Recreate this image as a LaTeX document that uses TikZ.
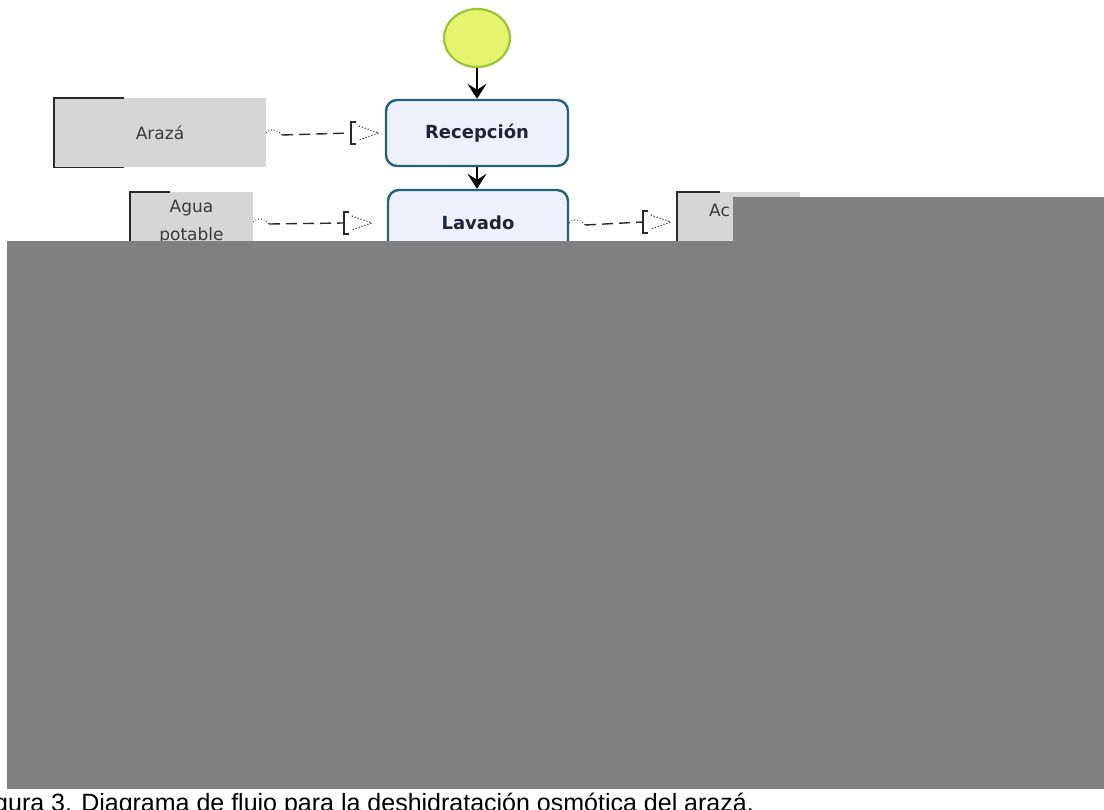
\documentclass[tikz,border=0pt]{standalone}
\usepackage{fontspec}
\setmainfont{DejaVu Sans}
\newfontfamily\capfont{Liberation Sans}
\usetikzlibrary{arrows.meta,calc,shapes.geometric}

\definecolor{boxedge}{HTML}{24627C}
\definecolor{boxfill}{HTML}{EEF0FC}
\definecolor{startfill}{HTML}{E4F46C}
\definecolor{startedge}{HTML}{9CC43A}
\definecolor{matfill}{HTML}{D6D6D6}
\definecolor{matedge}{HTML}{2A2A2A}
\definecolor{navy}{HTML}{1C2438}
\definecolor{matText}{HTML}{3A3A3A}
\definecolor{coverc}{HTML}{808080}

% input/output link: dashed line ending in a bracket and a dotted open arrow
\newcommand\iolink[3]{%
  \draw[dotted, line width=0.9pt, matedge] (#1.east)
     .. controls ($(#1.east)+(5,-5)$) and ($(#1.east)+(10,-4)$) .. ($(#1.east)+(16,2)$);
  \draw[linkline] ($(#1.east)+(16,2)$) -- ($(#2.west)+(-#3,0)$);
  \draw[line width=1.6pt, matedge] ($(#2.west)+({-#3+5},-11)$) -- ++(-5,0) -- ++(0,22) -- ++(5,0);
  \draw[dotted, line width=1.1pt, matedge] ($(#2.west)+({-#3+8},-7)$) -- ($(#2.west)+({-#3+28},0)$) -- ($(#2.west)+({-#3+8},7)$);
}

\begin{document}
\begin{tikzpicture}[x=1pt,y=-1pt,
  every node/.style={inner sep=0pt},
  procbox/.style={draw=boxedge, line width=2.4pt, fill=boxfill, rounded corners=11pt,
    minimum height=66pt, font=\fontsize{18}{20}\selectfont\bfseries, text=navy},
  matbox/.style={fill=matfill, font=\fontsize{17}{28}\selectfont, text=matText, align=center},
  matline/.style={line width=1.6pt, matedge},
  linkline/.style={line width=1.4pt, matedge, dash pattern=on 11pt off 6pt},
  flow/.style={line width=2pt, black, -{Stealth[length=15pt,width=19pt,inset=6pt]}},
  cover/.style={fill=coverc, draw=none}
]
\useasboundingbox (0,0) rectangle (1104,810);
\fill[white] (0,0) rectangle (1104,810);

% start event
\node[ellipse, draw=startedge, line width=2.2pt, fill=startfill,
      minimum width=66pt, minimum height=58pt] (start) at (477,38) {};

% process steps
\node[procbox, minimum width=182pt] (recep) at (477,133) {Recepción};
\node[procbox, minimum width=180pt] (lavado) at (478,223) {Lavado};

% materials
\node[matbox, minimum width=212pt, minimum height=69pt] (araza) at (160,133) {Arazá};
\draw[matline] ($(araza.north west)+(70,0)$) -- (araza.north west) -- (araza.south west) -- ++(70,0);

\node[matbox, minimum width=123pt, minimum height=60pt] (agua) at (191.5,222) {Agua\\potable};
\draw[matline] ($(agua.north west)+(40,0)$) -- (agua.north west) -- (agua.south west) -- ++(40,0);

\node[matbox, minimum width=123pt, minimum height=60pt] (resid) at (738.5,222) {};
\node[anchor=west, font=\fontsize{17}{19}\selectfont, text=matText] (residText) at (709,210) {Ac};
\draw[matline] ($(resid.north west)+(43,0)$) -- (resid.north west) -- (resid.south west) -- ++(43,0);

% main flow
\draw[flow] (start.south) -- (recep.north);
\draw[flow] (recep.south) -- (recep.south |- lavado.north);

% material links
\iolink{araza}{recep}{34}
\iolink{agua}{lavado}{43}
\iolink{lavado}{resid}{34}

% covering panels
\fill[cover] (733,197) rectangle (1104,241);
\fill[cover] (7,241) rectangle (1104,789);

% caption
\node[anchor=base west, font=\capfont\fontsize{25}{25}\selectfont, text=black]
  (caption) at (-6,811) {gura 3. Diagrama de flujo para la deshidratación osmótica del arazá.};
\end{tikzpicture}
\end{document}
